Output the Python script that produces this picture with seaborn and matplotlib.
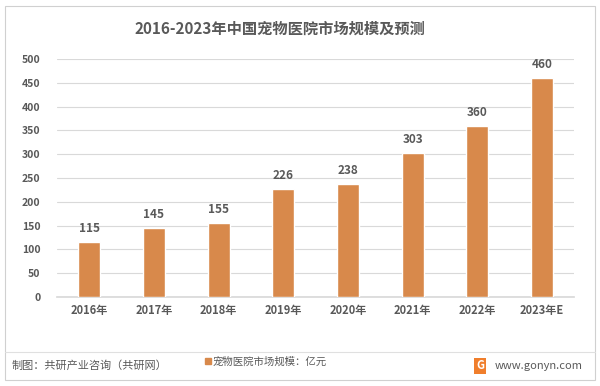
import matplotlib
matplotlib.use("Agg")
import matplotlib.pyplot as plt
import seaborn as sns
import pandas as pd
from matplotlib.patches import Rectangle
from matplotlib.lines import Line2D

# data
years = ['2016年', '2017年', '2018年', '2019年', '2020年', '2021年', '2022年', '2023年E']
market_size = [115, 145, 155, 226, 238, 303, 360, 460]
series_name = '宠物医院市场规模：亿元'

df = pd.DataFrame({'year': years, 'value': market_size})

sns.set_theme(style='white')
plt.rcParams['font.family'] = ['Noto Sans CJK SC', 'DejaVu Sans']

bar_color = '#D8894B'
text_color = '#595959'

fig = plt.figure(figsize=(6, 3.86), dpi=100)
ax = fig.add_axes([0.095, 0.2306, 0.862, 0.6164])

sns.barplot(data=df, x='year', y='value', color=bar_color, width=0.34,
            saturation=1, ax=ax, zorder=3)

ax.set_ylim(0, 500)
ax.set_yticks(range(0, 501, 50))
ax.grid(axis='y', color='#D9D9D9', linewidth=0.8, zorder=0)
for s in ['top', 'right', 'left']:
    ax.spines[s].set_visible(False)
ax.spines['bottom'].set_color('#D9D9D9')
ax.set_xlabel('')
ax.set_ylabel('')
ax.tick_params(axis='both', length=0, labelsize=7.5, labelcolor=text_color)
ax.tick_params(axis='y', pad=12)
ax.tick_params(axis='x', pad=5, labelsize=8)
for lbl in ax.get_xticklabels() + ax.get_yticklabels():
    lbl.set_fontweight('bold')

for c in ax.containers:
    ax.bar_label(c, padding=5, fontsize=8.5, fontweight='bold', color=text_color)

fig.text(0.467, 0.925, '2016-2023年中国宠物医院市场规模及预测', ha='center', va='center',
         fontsize=11, fontweight='bold', color=text_color)

# outer frame and footer line
fig.add_artist(Rectangle((0.008, 0.015), 0.984, 0.97, transform=fig.transFigure,
                         fill=False, edgecolor='#D0D0D0', linewidth=0.8))
fig.add_artist(Line2D([0.008, 0.992], [0.088, 0.088], transform=fig.transFigure,
                      color='#E0E0E0', linewidth=0.8))

fig.text(0.02, 0.052, '制图：共研产业咨询（共研网）', ha='left', va='center',
         fontsize=8, color=text_color)
fig.add_artist(Rectangle((0.342, 0.058), 0.009, 0.014, transform=fig.transFigure,
                         color=bar_color))
fig.text(0.355, 0.064, series_name, ha='left', va='center', fontsize=7.5, color=text_color)
fig.text(0.8, 0.052, 'G', ha='center', va='center', fontsize=8, fontweight='bold',
         color='white', bbox=dict(boxstyle='square,pad=0.15', fc='#F07E2C', ec='none'))
fig.text(0.825, 0.052, 'www.gonyn.com', ha='left', va='center', fontsize=8, color=text_color)

fig.savefig('out.png', dpi=100)
